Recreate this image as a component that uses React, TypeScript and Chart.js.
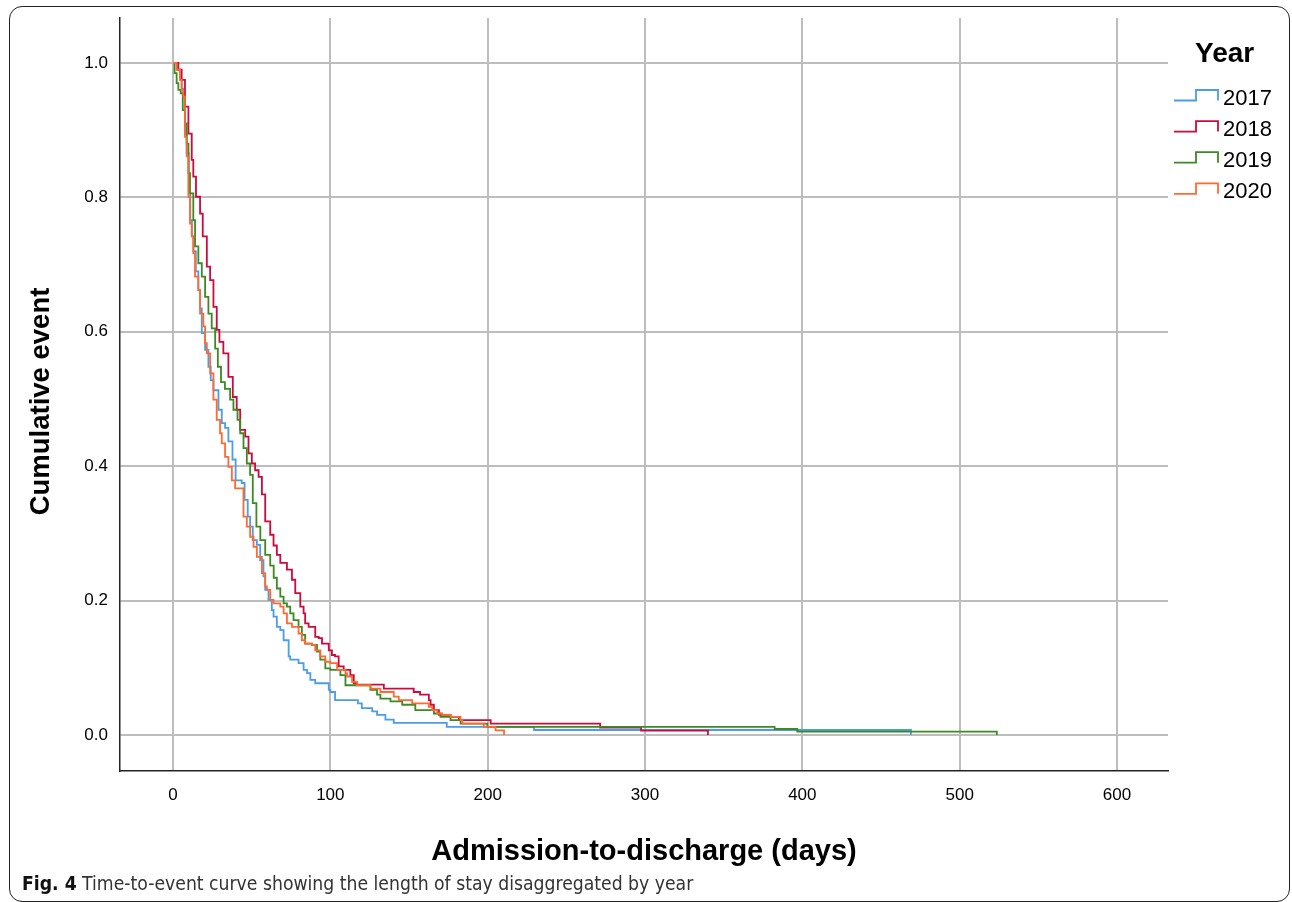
import React, { useEffect, useRef } from "react";
import { Chart, registerables } from "chart.js";

Chart.register(...registerables);

// ---------- DATA ----------
const years = ["2017", "2018", "2019", "2020"];

const days2017 = [0, 2.5, 4.5, 5.5, 6.6, 7.6, 8.7, 10, 11, 12, 13, 14.5, 16.1, 17.2, 18.3, 20.4, 22.5, 24, 25.7, 28.9, 31, 33.1, 35.2, 37.8, 39.8, 43.7, 45.5, 47.5, 49, 50.7, 53.3, 55.4, 57.5, 58.6, 60.7, 62.8, 63.9, 66, 68.2, 70.3, 73.5, 74.5, 79.8, 83, 85.2, 87.3, 90.4, 99, 100, 103, 117.5, 120, 126.6, 129.7, 135, 140.3, 174, 229.5, 469];
const cum2017 = [1, 0.99, 0.975, 0.962, 0.95, 0.895, 0.866, 0.806, 0.766, 0.742, 0.72, 0.69, 0.662, 0.635, 0.598, 0.573, 0.548, 0.528, 0.513, 0.484, 0.464, 0.457, 0.437, 0.41, 0.379, 0.375, 0.35, 0.325, 0.31, 0.29, 0.283, 0.26, 0.236, 0.216, 0.201, 0.186, 0.176, 0.161, 0.156, 0.141, 0.117, 0.112, 0.107, 0.097, 0.092, 0.082, 0.077, 0.067, 0.064, 0.052, 0.047, 0.04, 0.035, 0.03, 0.023, 0.018, 0.012, 0.0074, 0];

const days2018 = [0, 3.4, 5.5, 7.6, 9.8, 11.9, 12.9, 14.6, 17.2, 18.9, 21.5, 23.6, 25.7, 27.8, 29.5, 32, 35.2, 38, 40.5, 42.7, 45.9, 48, 50.1, 52.2, 54.4, 56.5, 58.6, 61.8, 63.9, 66, 68.2, 72.4, 75.6, 77.7, 80.9, 83, 84, 86.2, 90.4, 92.6, 94.7, 99, 101, 103, 105.3, 108.5, 112.7, 114.9, 117, 134, 153, 157, 162.6, 163.7, 165.8, 169, 176.4, 181.7, 201.9, 271.5, 297.5, 340];
const cum2018 = [1, 0.99, 0.975, 0.935, 0.895, 0.856, 0.831, 0.801, 0.776, 0.742, 0.697, 0.677, 0.637, 0.603, 0.585, 0.568, 0.533, 0.503, 0.484, 0.454, 0.444, 0.419, 0.404, 0.394, 0.384, 0.358, 0.318, 0.298, 0.282, 0.268, 0.256, 0.246, 0.231, 0.211, 0.191, 0.181, 0.166, 0.161, 0.146, 0.144, 0.136, 0.126, 0.119, 0.117, 0.102, 0.097, 0.089, 0.077, 0.075, 0.069, 0.064, 0.06, 0.052, 0.045, 0.037, 0.03, 0.027, 0.022, 0.017, 0.011, 0.0064, 0];

const days2019 = [0, 1, 2.3, 3.4, 4.9, 6.2, 7.6, 8.7, 9.8, 10.8, 12.9, 14, 16.1, 18.3, 20.4, 22.5, 24.6, 26.8, 28.5, 30.5, 33, 36.3, 38.4, 41, 42.7, 44.8, 46.9, 49, 50.7, 53, 55.5, 58.6, 61.8, 64, 66, 68.2, 70.3, 72.4, 74.5, 76.6, 79.8, 81.9, 84, 88.3, 91.5, 93.6, 96.8, 100, 106.4, 109.6, 125.5, 129.7, 131.8, 138.2, 145.7, 154, 165.8, 170, 176.4, 182.8, 199.8, 382.4, 396.8, 523.6];
const cum2019 = [1, 0.985, 0.97, 0.96, 0.955, 0.93, 0.91, 0.88, 0.836, 0.806, 0.766, 0.727, 0.702, 0.682, 0.652, 0.627, 0.605, 0.575, 0.548, 0.525, 0.515, 0.499, 0.484, 0.469, 0.449, 0.427, 0.404, 0.387, 0.345, 0.31, 0.29, 0.268, 0.252, 0.234, 0.218, 0.206, 0.196, 0.191, 0.181, 0.171, 0.161, 0.149, 0.136, 0.134, 0.124, 0.112, 0.099, 0.097, 0.089, 0.074, 0.067, 0.06, 0.054, 0.05, 0.045, 0.037, 0.032, 0.027, 0.022, 0.017, 0.012, 0.0089, 0.005, 0];

const days2020 = [0, 2.3, 4.5, 5.5, 6.6, 7.6, 8.7, 9.8, 10.8, 11.9, 12.9, 14, 16.1, 17.2, 19.3, 20.4, 21.5, 23.6, 25.7, 27.8, 29.9, 31, 33.1, 35.2, 37.4, 39.5, 44.8, 46.9, 49, 51.2, 53.3, 56.5, 58.6, 59.7, 61.8, 63.9, 68.2, 70.3, 72.4, 75.6, 79.8, 81.9, 84, 88.3, 90.4, 93.6, 96.8, 100, 104.3, 109.6, 110.6, 113.8, 117, 125.5, 131.8, 140.3, 143.5, 152, 162.6, 164.8, 168, 171.1, 176.4, 182.8, 183.9, 197.6, 205, 210.4];
const cum2020 = [1, 0.99, 0.975, 0.96, 0.95, 0.89, 0.861, 0.801, 0.761, 0.742, 0.717, 0.682, 0.662, 0.627, 0.608, 0.583, 0.568, 0.538, 0.499, 0.469, 0.449, 0.434, 0.414, 0.399, 0.379, 0.367, 0.325, 0.31, 0.295, 0.28, 0.265, 0.241, 0.221, 0.216, 0.201, 0.196, 0.191, 0.181, 0.166, 0.161, 0.151, 0.141, 0.136, 0.134, 0.126, 0.117, 0.109, 0.107, 0.097, 0.092, 0.087, 0.079, 0.074, 0.069, 0.064, 0.057, 0.052, 0.047, 0.042, 0.037, 0.032, 0.03, 0.027, 0.022, 0.017, 0.012, 0.007, 0];

const xTickValues = [0, 100, 200, 300, 400, 500, 600];
const yTickValues = [0, 0.2, 0.4, 0.6, 0.8, 1.0];

const xTitle = "Admission-to-discharge (days)";
const yTitle = "Cumulative event";
const legendTitle = "Year";
const captionBold = "Fig. 4";
const captionText = " Time-to-event curve showing the length of stay disaggregated by year";

// ---------- STYLE ----------
const seriesColors = ["#4a9de6", "#cc0a3c", "#3c8a21", "#ff6a33"];
const FONT = '"Liberation Sans", Arial, Helvetica, sans-serif';

const seriesDays = [days2017, days2018, days2019, days2020];
const seriesCum = [cum2017, cum2018, cum2019, cum2020];

const stepLegend = {
  id: "stepLegend",
  afterDraw(chart: any) {
    const ctx = chart.ctx;
    const { right, top, bottom } = chart.chartArea;
    ctx.save();
    // y-axis title
    ctx.fillStyle = "#000";
    ctx.font = `bold 27.5px ${FONT}`;
    ctx.textAlign = "center";
    ctx.textBaseline = "middle";
    ctx.translate(41, (top + bottom) / 2 + 7);
    ctx.rotate(-Math.PI / 2);
    ctx.fillText(yTitle, 0, 0);
    ctx.restore();

    ctx.save();
    ctx.fillStyle = "#000";
    ctx.textBaseline = "middle";
    ctx.textAlign = "left";
    ctx.font = `bold 28px ${FONT}`;
    ctx.fillText(legendTitle, right + 27, 54);
    ctx.font = `22px ${FONT}`;
    years.forEach((yr, i) => {
      const yLow = 100.5 + i * 31.1;
      const yHigh = yLow - 10.5;
      const x0 = right + 6;
      const x1 = right + 28;
      const x2 = right + 50;
      ctx.strokeStyle = seriesColors[i];
      ctx.lineWidth = 1.8;
      ctx.beginPath();
      ctx.moveTo(x0, yLow);
      ctx.lineTo(x1, yLow);
      ctx.lineTo(x1, yHigh);
      ctx.lineTo(x2, yHigh);
      ctx.lineTo(x2, yLow);
      ctx.stroke();
      ctx.fillStyle = "#000";
      ctx.fillText(yr, right + 55, yLow - 2);
    });
    ctx.restore();
  },
};

export default function App() {
  const ref = useRef<HTMLCanvasElement | null>(null);

  useEffect(() => {
    if (!ref.current) return;
    const datasets = years.map((yr, i) => ({
      label: yr,
      data: seriesDays[i].map((d, j) => ({ x: d, y: seriesCum[i][j] })),
      borderColor: seriesColors[i],
      backgroundColor: seriesColors[i],
      borderWidth: 1.8,
      stepped: true as const,
      pointRadius: 0,
      fill: false,
      order: 4 - i,
    }));

    const chart = new Chart(ref.current, {
      type: "line",
      data: { datasets },
      options: {
        animation: false,
        responsive: false,
        devicePixelRatio: 1,
        layout: { padding: { left: 0, top: 18, right: 124, bottom: 0 } },
        plugins: {
          legend: { display: false },
          tooltip: { enabled: false },
        },
        scales: {
          x: {
            type: "linear",
            min: -33.69,
            max: 632.4,
            afterBuildTicks: (s: any) => {
              s.ticks = xTickValues.map((v) => ({ value: v }));
            },
            afterFit: (s: any) => {
              s.height = 131;
            },
            ticks: {
              color: "#000",
              font: { family: FONT, size: 17 },
              padding: 14,
              maxRotation: 0,
              autoSkip: false,
              callback: (v: any) => String(v),
            },
            grid: { color: "#bdbdbd", lineWidth: 2, drawTicks: false },
            border: { display: true, color: "#222", width: 1.5 },
            title: {
              display: true,
              text: xTitle,
              color: "#000",
              font: { family: FONT, size: 29, weight: "bold" },
              padding: { top: 0, bottom: 33 },
            },
          },
          y: {
            type: "linear",
            min: -0.0536,
            max: 1.067,
            afterBuildTicks: (s: any) => {
              s.ticks = yTickValues.map((v) => ({ value: v }));
            },
            afterFit: (s: any) => {
              s.width = 120;
            },
            ticks: {
              color: "#000",
              font: { family: FONT, size: 17 },
              padding: 0,
              autoSkip: false,
              callback: (v: any) => Number(v).toFixed(1),
            },
            grid: {
              color: "#bdbdbd",
              lineWidth: 2,
              drawTicks: true,
              tickLength: 12,
              tickColor: "rgba(0,0,0,0)",
            },
            border: { display: true, color: "#222", width: 1.5 },
            title: { display: false },
          },
        },
      },
      plugins: [stepLegend],
    } as any);

    return () => chart.destroy();
  }, []);

  return (
    <div style={{ position: "absolute", left: 0, top: 0, width: 1292, height: 902, overflow: "hidden", background: "#fff" }}>
      <div
        style={{
          position: "absolute",
          left: 9,
          top: 6,
          width: 1281,
          height: 896,
          border: "1.5px solid #222",
          borderRadius: 13,
          boxSizing: "border-box",
        }}
      />
      <canvas
        ref={ref}
        width={1292}
        height={902}
        style={{ position: "absolute", left: 0, top: 0, width: 1292, height: 902, display: "block" }}
      />
      <div
        style={{
          position: "absolute",
          left: 22,
          top: 873,
          fontFamily: '"Liberation Sans Narrow", "DejaVu Sans Condensed", "Liberation Sans", sans-serif',
          fontSize: 19.2,
          lineHeight: "22px",
          color: "#333",
          whiteSpace: "nowrap",
        }}
      >
        <span style={{ fontWeight: "bold", color: "#111" }}>{captionBold}</span>
        {captionText}
      </div>
    </div>
  );
}
